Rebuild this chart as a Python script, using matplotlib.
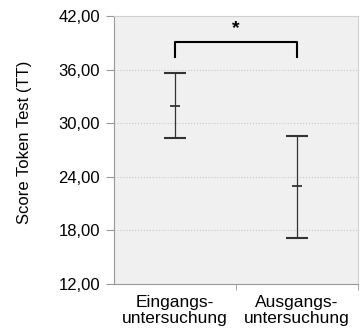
import numpy as np
import matplotlib.pyplot as plt
from matplotlib.ticker import FuncFormatter

plt.rcParams['font.family'] = ['Liberation Sans', 'DejaVu Sans']

groups = ["Eingangs-\nuntersuchung", "Ausgangs-\nuntersuchung"]
means = [31.9, 23.0]
upper = [35.6, 28.6]
lower = [28.3, 17.1]
yticks = [12, 18, 24, 30, 36, 42]
bracket_y = 39.1
bracket_drop = 37.4

fig = plt.figure(figsize=(3.64, 3.36), dpi=100)
ax = fig.add_axes([114/364, 1-284/336, 244/364, 268/336])
ax.set_facecolor('#f0f0f0')

x = np.arange(len(groups))
err = [np.array(means) - np.array(lower), np.array(upper) - np.array(means)]
ax.errorbar(x, means, yerr=err, fmt='none', ecolor='#333333', elinewidth=0.9,
            capsize=8, capthick=1.5)
# mean marks
ax.plot(x, means, linestyle='none', marker='_', markersize=7, color='#333333', mew=1.3)

# significance bracket
ax.plot([x[0], x[0], x[1], x[1]], [bracket_drop, bracket_y, bracket_y, bracket_drop],
        color='black', lw=1.5)
ax.text((x[0] + x[1]) / 2, bracket_y + 0.5, '*', ha='center', va='bottom',
        fontsize=14, fontweight='bold')

ax.set_xlim(-0.5, 1.5)
ax.set_ylim(12, 42)
ax.set_yticks(yticks)
ax.yaxis.set_major_formatter(FuncFormatter(lambda v, p: f"{v:.2f}".replace('.', ',')))
ax.set_xticks(x)
ax.set_xticklabels(groups, fontsize=12.5, linespacing=1.05)
ax.set_xticks([0.5, 1.5], minor=True)
ax.tick_params(axis='x', which='major', length=0, pad=8)
ax.tick_params(axis='x', which='minor', length=4, color='#999999')
ax.tick_params(axis='y', length=6, color='#999999', labelsize=12, pad=4)

ax.grid(axis='y', color='#c8c8c8', linestyle=':', lw=0.8)
ax.set_axisbelow(True)
for s in ['top', 'right']:
    ax.spines[s].set_color('#d0d0d0')
for s in ['left', 'bottom']:
    ax.spines[s].set_color('#999999')

ax.set_ylabel('Score Token Test (TT)', fontsize=12)
ax.yaxis.set_label_coords(-0.335, 0.53)

fig.savefig('out.png', dpi=100)
